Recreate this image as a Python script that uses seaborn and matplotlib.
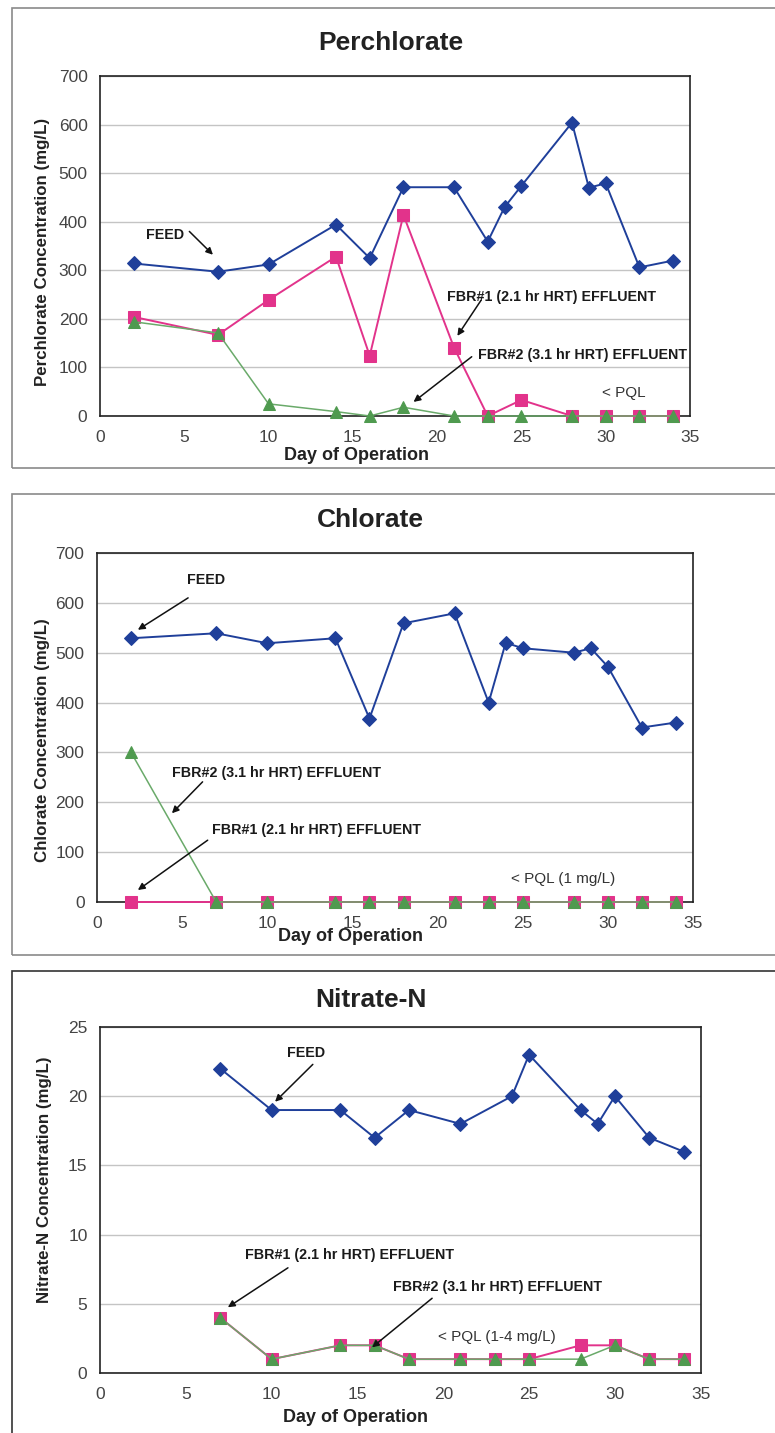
import matplotlib
matplotlib.use('Agg')
import matplotlib.pyplot as plt
from matplotlib.patches import Rectangle
import seaborn as sns

# Perchlorate
perc_days_feed = [2, 7, 10, 14, 16, 18, 21, 23, 24, 25, 28, 29, 30, 32, 34]
perc_feed = [314, 297, 312, 394, 325, 471, 471, 359, 430, 474, 604, 470, 479, 306, 320]
perc_days_eff = [2, 7, 10, 14, 16, 18, 21, 23, 25, 28, 30, 32, 34]
perc_fbr1 = [204, 167, 239, 328, 124, 414, 141, 0, 33, 0, 0, 0, 0]
perc_fbr2 = [194, 171, 25, 9, 0, 18, 0, 0, 0, 0, 0, 0, 0]

# Chlorate
chl_days_feed = [2, 7, 10, 14, 16, 18, 21, 23, 24, 25, 28, 29, 30, 32, 34]
chl_feed = [529, 539, 519, 529, 368, 559, 579, 400, 520, 509, 500, 509, 472, 350, 360]
chl_days_eff = [2, 7, 10, 14, 16, 18, 21, 23, 25, 28, 30, 32, 34]
chl_fbr1 = [0, 0, 0, 0, 0, 0, 0, 0, 0, 0, 0, 0, 0]
chl_fbr2 = [300, 0, 0, 0, 0, 0, 0, 0, 0, 0, 0, 0, 0]

# Nitrate-N
nit_days_feed = [7, 10, 14, 16, 18, 21, 24, 25, 28, 29, 30, 32, 34]
nit_feed = [22, 19, 19, 17, 19, 18, 20, 23, 19, 18, 20, 17, 16]
nit_days_eff = [7, 10, 14, 16, 18, 21, 23, 25, 28, 30, 32, 34]
nit_fbr1 = [4, 1, 2, 2, 1, 1, 1, 1, 2, 2, 1, 1]
nit_fbr2 = [4, 1, 2, 2, 1, 1, 1, 1, 1, 2, 1, 1]

FBR1 = 'FBR#1 (2.1 hr HRT) EFFLUENT'
FBR2 = 'FBR#2 (3.1 hr HRT) EFFLUENT'

sns.set_style('white')
plt.rcParams['font.family'] = ['Liberation Sans', 'DejaVu Sans']

BLUE = '#1f3f9a'
PINK = '#e2338b'
GREEN = '#4f9a4f'
GREEN_LINE = '#6aaa6a'
TICK = '#444444'

fig = plt.figure(figsize=(7.75, 14.33), dpi=100)

# panel frames (figure px -> fraction)
H = 1433.0
W = 775.0
for top, bot, col in [(8, 468, '#8a8a8a'), (494, 955, '#8a8a8a'), (971, 1445, '#333333')]:
    fig.add_artist(Rectangle((12 / W, 1 - bot / H), 1.0, (bot - top) / H,
                             transform=fig.transFigure, fill=False, ec=col, lw=1.2))

panels = [
    dict(rect=(100, 690, 76, 416), title='Perchlorate', tx=391, ty=43, ymax=700, ystep=100,
         ylabel='Perchlorate Concentration (mg/L)', ylab=(-0.098, 0.482), xlab=(0.434, -0.115),
         dfeed=perc_days_feed, feed=perc_feed, deff=perc_days_eff, f1=perc_fbr1, f2=perc_fbr2,
         notes=[('FEED', 2.75, 373, 'bold', (5.3, 380), (6.7, 332)),
                (FBR1, 20.6, 245, 'bold', (22.6, 238), (21.2, 165)),
                (FBR2, 22.4, 126, 'bold', (22.05, 122), (18.6, 29)),
                ('< PQL', 29.8, 47, 'normal', None, None)]),
    dict(rect=(97, 693, 553, 902), title='Chlorate', tx=370, ty=520, ymax=700, ystep=100,
         ylabel='Chlorate Concentration (mg/L)', ylab=(-0.092, 0.464), xlab=(0.426, -0.100),
         dfeed=chl_days_feed, feed=chl_feed, deff=chl_days_eff, f1=chl_fbr1, f2=chl_fbr2,
         notes=[('FEED', 5.3, 646, 'bold', (5.35, 610), (2.4, 546)),
                (FBR2, 4.4, 259, 'bold', (6.2, 241), (4.4, 178)),
                (FBR1, 6.75, 144, 'bold', (6.5, 124), (2.4, 24)),
                ('< PQL (1 mg/L)', 24.3, 46, 'normal', None, None)]),
    dict(rect=(100, 700.7, 1027, 1373), title='Nitrate-N', tx=371, ty=1000, ymax=25, ystep=5,
         ylabel='Nitrate-N Concentration (mg/L)', ylab=(-0.093, 0.558), xlab=(0.426, -0.130),
         dfeed=nit_days_feed, feed=nit_feed, deff=nit_days_eff, f1=nit_fbr1, f2=nit_fbr2,
         notes=[('FEED', 10.9, 23.1, 'bold', (12.4, 22.3), (10.2, 19.6)),
                (FBR1, 8.45, 8.53, 'bold', (10.95, 7.6), (7.45, 4.75)),
                (FBR2, 17.07, 6.2, 'bold', (19.35, 5.4), (15.85, 1.85)),
                ('< PQL (1-4 mg/L)', 19.7, 2.6, 'normal', None, None)]),
]

for p in panels:
    x0, x1, y0, y1 = p['rect']
    ax = fig.add_axes([x0 / W, 1 - y1 / H, (x1 - x0) / W, (y1 - y0) / H])

    sns.lineplot(x=p['dfeed'], y=p['feed'], ax=ax, color=BLUE, marker='D', markersize=7,
                 markeredgecolor=BLUE, linewidth=1.4, clip_on=False, zorder=5)
    sns.lineplot(x=p['deff'], y=p['f1'], ax=ax, color=PINK, marker='s', markersize=9,
                 markeredgecolor=PINK, linewidth=1.4, clip_on=False, zorder=6)
    sns.lineplot(x=p['deff'], y=p['f2'], ax=ax, color=GREEN_LINE, marker='^', markersize=8,
                 markerfacecolor=GREEN, markeredgecolor=GREEN, linewidth=1.1,
                 clip_on=False, zorder=7)

    ax.set_xlim(0, 35)
    ax.set_ylim(0, p['ymax'])
    ax.set_xticks(range(0, 36, 5))
    ax.set_yticks(range(0, p['ymax'] + 1, p['ystep']))
    ax.tick_params(axis='both', length=0, labelsize=12.5, labelcolor=TICK)
    ax.tick_params(axis='x', pad=10)
    ax.tick_params(axis='y', pad=9)
    ax.grid(axis='y', color='#c4c4c4', linewidth=1.0)
    ax.set_axisbelow(True)
    for s in ax.spines.values():
        s.set_visible(True)
        s.set_color('#222222')
        s.set_linewidth(1.2)

    ax.set_xlabel('Day of Operation', fontsize=13, fontweight='bold', color='#222222', va='center')
    ax.xaxis.set_label_coords(*p['xlab'])
    ax.set_ylabel(p['ylabel'], fontsize=12.2, fontweight='bold', color='#222222', va='center')
    ax.yaxis.set_label_coords(*p['ylab'])

    fig.text(p['tx'] / W, 1 - p['ty'] / H, p['title'], ha='center', va='center',
             fontsize=19, fontweight='bold', color='#222222')

    for txt, tx, ty, wt, tail, head in p['notes']:
        ax.text(tx, ty, txt, ha='left', va='center', fontsize=10.3 if wt == 'bold' else 11,
                fontweight=wt, color='#1a1a1a' if wt == 'bold' else '#333333', zorder=9)
        if tail is not None:
            ax.annotate('', xy=head, xytext=tail,
                        arrowprops=dict(arrowstyle='-|>', color='#111111', lw=1.1,
                                        mutation_scale=10, shrinkA=0, shrinkB=0), zorder=9)

    leg = ax.get_legend()
    if leg is not None:
        leg.remove()

fig.savefig('out.png', dpi=100)
